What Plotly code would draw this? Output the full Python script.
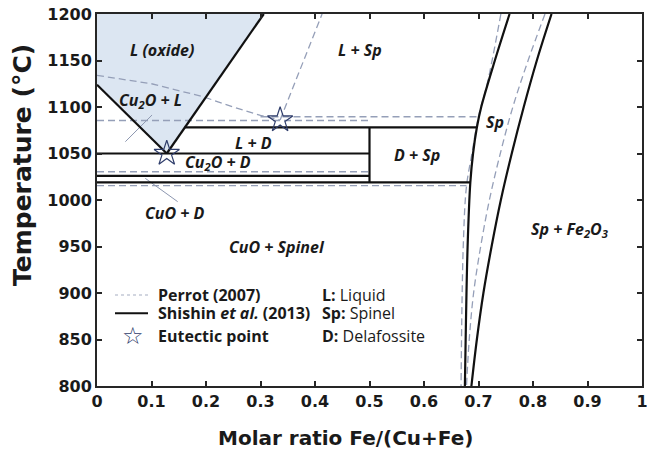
import plotly.graph_objects as go

# ---------------- data ----------------
# Shishin et al. (2013) - solid lines
liq_left_x = [0.0, 0.128]
liq_left_T = [1124, 1050]
liq_right_x = [0.128, 0.306]
liq_right_T = [1050, 1200]
oxide_region_x = [0.0, 0.0, 0.128, 0.306]
oxide_region_T = [1200, 1124, 1050, 1200]

iso_LD_x = [0.161, 0.697]
iso_LD_T = [1078, 1078]
iso_1050_x = [0.0, 0.5]
iso_1050_T = [1050, 1050]
iso_1026_x = [0.0, 0.5]
iso_1026_T = [1026, 1026]
iso_1019_x = [0.0, 0.685]
iso_1019_T = [1019, 1019]
d_vert_x = [0.5, 0.5]
d_vert_T = [1019, 1078]

sp_left_x = [0.757, 0.730, 0.705, 0.697, 0.690, 0.685, 0.680, 0.677, 0.675]
sp_left_T = [1200, 1150, 1100, 1078, 1050, 1019, 950, 870, 800]
sp_right_x = [0.834, 0.807, 0.783, 0.761, 0.741, 0.724, 0.709, 0.697, 0.687]
sp_right_T = [1200, 1150, 1100, 1050, 1000, 950, 900, 850, 800]

# Perrot (2007) - dashed lines
p_liq_x = [0.0, 0.1, 0.195, 0.25, 0.3, 0.336]
p_liq_T = [1134, 1125, 1111, 1100, 1091, 1086]
p_upper_x = [0.336, 0.413]
p_upper_T = [1086, 1200]
p_iso_1086_x = [0.0, 0.5]
p_iso_1086_T = [1085.5, 1085.5]
p_iso_1090_x = [0.3, 0.700]
p_iso_1090_T = [1089.5, 1089.5]
p_iso_1030_x = [0.0, 0.5]
p_iso_1030_T = [1030.4, 1030.4]
p_iso_1015_x = [0.0, 0.678]
p_iso_1015_T = [1015.4, 1015.4]
p_sp_left_x = [0.741, 0.716, 0.700, 0.688, 0.678, 0.672, 0.668]
p_sp_left_T = [1200, 1125, 1090, 1050, 1015, 950, 800]
p_sp_right_x = [0.822, 0.791, 0.763, 0.740, 0.720, 0.704, 0.691, 0.683, 0.678]
p_sp_right_T = [1200, 1150, 1100, 1050, 1000, 950, 900, 850, 800]

# eutectic points
eut_x = [0.128, 0.336]
eut_T = [1050, 1086]

# leader lines for labels
lead1_x = [0.101, 0.052]
lead1_T = [1091.4, 1062.7]
lead2_x = [0.0886, 0.148]
lead2_T = [1023.3, 998.2]

# phase labels
label_text = ["L (oxide)", "Cu<sub>2</sub>O + L", "L + D", "Cu<sub>2</sub>O + D", "L + Sp",
              "D + Sp", "Sp", "CuO + D", "CuO + Spinel", "Sp + Fe<sub>2</sub>O<sub>3</sub>"]
label_x = [0.119, 0.098, 0.287, 0.222, 0.483, 0.587, 0.730, 0.144, 0.330, 0.868]
label_T = [1161, 1107.5, 1061, 1040, 1161, 1048.4, 1084, 985.7, 950, 968]

x_ticks = [0, 0.1, 0.2, 0.3, 0.4, 0.5, 0.6, 0.7, 0.8, 0.9, 1]
x_tick_text = ["0", "0.1", "0.2", "0.3", "0.4", "0.5", "0.6", "0.7", "0.8", "0.9", "1"]
y_ticks = [800, 850, 900, 950, 1000, 1050, 1100, 1150, 1200]

# ---------------- styles ----------------
DASH = dict(color="#959fb8", width=1.3, dash="7px,4px")
LEAD = dict(color="#8d97b0", width=1)
FONT = "Open Sans"
TFONT = "DejaVu Sans"
TXT = "#1a1a1a"

fig = go.Figure()

fig.add_trace(go.Scatter(x=oxide_region_x, y=oxide_region_T, fill="toself",
                         fillcolor="#dce6f2", line=dict(width=0), mode="lines",
                         hoverinfo="skip"))

for xs, ts in [(p_liq_x, p_liq_T), (p_upper_x, p_upper_T), (p_iso_1086_x, p_iso_1086_T),
               (p_iso_1090_x, p_iso_1090_T), (p_iso_1030_x, p_iso_1030_T),
               (p_iso_1015_x, p_iso_1015_T)]:
    fig.add_trace(go.Scatter(x=xs, y=ts, mode="lines", line=DASH))
for xs, ts in [(p_sp_left_x, p_sp_left_T), (p_sp_right_x, p_sp_right_T)]:
    fig.add_trace(go.Scatter(x=xs, y=ts, mode="lines", line=dict(DASH, shape="spline")))

for xs, ts in [(lead1_x, lead1_T), (lead2_x, lead2_T)]:
    fig.add_trace(go.Scatter(x=xs, y=ts, mode="lines", line=LEAD))

for xs, ts in [(liq_left_x, liq_left_T), (liq_right_x, liq_right_T), (iso_LD_x, iso_LD_T),
               (iso_1050_x, iso_1050_T), (iso_1026_x, iso_1026_T), (iso_1019_x, iso_1019_T),
               (d_vert_x, d_vert_T)]:
    fig.add_trace(go.Scatter(x=xs, y=ts, mode="lines", line=dict(color="#111111", width=2.2)))

for xs, ts in [(sp_left_x, sp_left_T), (sp_right_x, sp_right_T)]:
    fig.add_trace(go.Scatter(x=xs, y=ts, mode="lines",
                             line=dict(color="#111111", width=2.2, shape="spline")))

fig.add_trace(go.Scatter(x=eut_x, y=eut_T, mode="markers",
                         marker=dict(symbol="star-open", size=19, color="#2f3d6b",
                                     line=dict(color="#2f3d6b", width=1.2))))

annotations = []
for t, x, y in zip(label_text, label_x, label_T):
    annotations.append(dict(x=x, y=y, xref="x", yref="y", text="<b><i>" + t + "</i></b>",
                            xanchor="center", yanchor="middle",
                            showarrow=False, font=dict(family=FONT, size=16, color=TXT)))


def px(xp):
    return (xp - 97) / 545


def py(yp):
    return (386 - yp) / 372


# axis titles
annotations.append(dict(x=px(345), y=py(438), xref="paper", yref="paper",
                        xanchor="center", yanchor="middle",
                        text="<b>Molar ratio Fe/(Cu+Fe)</b>", showarrow=False,
                        font=dict(family=TFONT, size=20, color=TXT)))
annotations.append(dict(x=px(22), y=py(165), xref="paper", yref="paper",
                        xanchor="center", yanchor="middle",
                        text="<b>Temperature (°C)</b>", showarrow=False, textangle=-90,
                        font=dict(family=TFONT, size=25, color=TXT)))

legend_rows = [295, 313.3, 335.5]
left_text = ["<b>Perrot (2007)</b>", "<b>Shishin <i>et al.</i> (2013)</b>", "<b>Eutectic point</b>"]
right_text = ["<b>L:</b> Liquid", "<b>Sp:</b> Spinel", "<b>D:</b> Delafossite"]
for r, lt, rt in zip(legend_rows, left_text, right_text):
    annotations.append(dict(x=px(157), y=py(r), xref="paper", yref="paper", text=lt,
                            xanchor="left", yanchor="middle", showarrow=False, borderpad=0,
                            font=dict(family=FONT, size=16, color=TXT)))
    annotations.append(dict(x=px(321), y=py(r), xref="paper", yref="paper", text=rt,
                            xanchor="left", yanchor="middle", showarrow=False, borderpad=0,
                            font=dict(family=FONT, size=16, color=TXT)))
annotations.append(dict(x=px(133), y=py(336), xref="paper", yref="paper", text="☆",
                        xanchor="center", yanchor="middle",
                        showarrow=False, font=dict(family="DejaVu Sans", size=24, color="#2f3d6b")))

shapes = [
    dict(type="line", xref="paper", yref="paper", x0=px(115), x1=px(148), y0=py(295), y1=py(295),
         line=dict(color="#a6adc2", width=1.2, dash="dot")),
    dict(type="line", xref="paper", yref="paper", x0=px(115), x1=px(148), y0=py(313.3), y1=py(313.3),
         line=dict(color="#111111", width=2)),
]

axis_common = dict(showgrid=False, zeroline=False, showline=True, mirror="ticks",
                   linecolor="#262626", linewidth=2, ticks="inside", ticklen=5,
                   tickwidth=1.5, tickcolor="#262626", automargin=False,
                   ticklabeloverflow="allow",
                   tickfont=dict(family=TFONT, size=16, color=TXT, weight="bold"))

fig.update_layout(
    width=647, height=459,
    margin=dict(l=97, r=5, t=14, b=73, autoexpand=False),
    plot_bgcolor="white", paper_bgcolor="white",
    showlegend=False,
    annotations=annotations,
    shapes=shapes,
    xaxis=dict(range=[0, 1], tickvals=x_ticks, ticktext=x_tick_text, **axis_common),
    yaxis=dict(range=[800, 1200], tickvals=y_ticks, **axis_common),
)

fig.write_html("out.html", config={"displayModeBar": False},
               post_script="document.body.style.margin='0';document.body.style.overflow='hidden';")
